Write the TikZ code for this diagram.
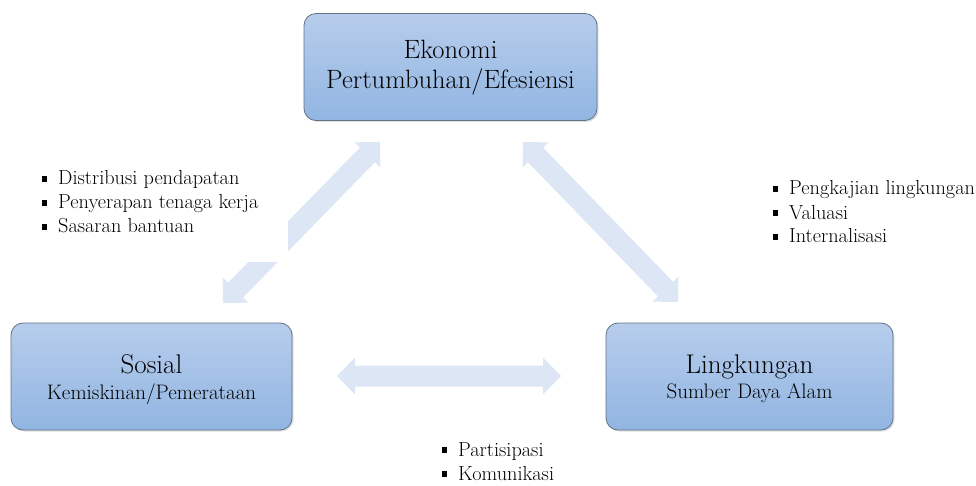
\documentclass[tikz,border=0pt]{standalone}
\usepackage{fontspec}
\setmainfont{Latin Modern Roman}
\usetikzlibrary{calc,shadows}
\definecolor{boxtop}{RGB}{183,205,236}
\definecolor{boxbot}{RGB}{145,181,226}
\definecolor{boxedge}{RGB}{100,114,136}
\definecolor{arrowfill}{RGB}{220,230,244}
\newcommand{\fatarrow}[5]{%
  \fill[arrowfill] (#1)
    -- ($(#1)!#3!(#2)!#4!90:(#2)$)
    -- ($(#1)!#3!(#2)!#5!90:(#2)$)
    -- ($(#2)!#3!(#1)!#5!-90:(#1)$)
    -- ($(#2)!#3!(#1)!#4!-90:(#1)$)
    -- (#2)
    -- ($(#2)!#3!(#1)!#4!90:(#1)$)
    -- ($(#2)!#3!(#1)!#5!90:(#1)$)
    -- ($(#1)!#3!(#2)!#5!-90:(#2)$)
    -- ($(#1)!#3!(#2)!#4!-90:(#2)$)
    -- cycle;}
\begin{document}
\begin{tikzpicture}[x=1pt,y=-1pt,
  domainbox/.style={draw=boxedge, line width=0.8pt, rounded corners=12pt,
    top color=boxtop, bottom color=boxbot, inner sep=0pt,
    minimum height=107pt,
    drop shadow={opacity=0.25, shadow xshift=1.5pt, shadow yshift=-1.5pt}},
  titletext/.style={anchor=base, inner sep=0pt, font=\fontsize{26}{30}\selectfont},
  subtext/.style={anchor=base, inner sep=0pt, font=\fontsize{21}{24}\selectfont},
  itemtext/.style={anchor=base west, inner sep=0pt, font=\fontsize{20.3}{24}\selectfont},
  itembullet/.style={fill=black, inner sep=0pt, minimum size=5.5pt}
]
\useasboundingbox (0,0) rectangle (976,486);

% arrows
\coordinate (aL1) at (223,303);
\coordinate (aL2) at (380,142);
\coordinate (aR1) at (523,142);
\coordinate (aR2) at (678,302);
\coordinate (aB1) at (337,376);
\coordinate (aB2) at (561,376);
\fatarrow{aL1}{aL2}{18pt}{18pt}{10.5pt}
\fatarrow{aR1}{aR2}{18pt}{18pt}{10.5pt}
\fatarrow{aB1}{aB2}{18pt}{18.5pt}{10.5pt}

% white background of the left list (covers part of the left arrow)
\node[fill=white, inner sep=0pt, minimum width=258pt, minimum height=102pt,
  anchor=south east] (lstLbox) at (288,262) {};

% boxes
\node[domainbox, minimum width=293pt] (eko) at (450.5,67) {};
\node[domainbox, minimum width=281pt] (sos) at (151.5,376.5) {};
\node[domainbox, minimum width=287pt] (lin) at (749.5,376.5) {};

\node[titletext, font=\fontsize{26.5}{30}\selectfont] (ekoA) at (450.5,59) {Ekonomi};
\node[titletext, font=\fontsize{26.5}{30}\selectfont] (ekoB) at (450.5,89) {Pertumbuhan/Efesiensi};
\node[titletext, font=\fontsize{27}{30}\selectfont] (sosA) at (151.5,373) {Sosial};
\node[subtext] (sosB) at (151.5,399) {Kemiskinan/Pemerataan};
\node[titletext, font=\fontsize{27}{30}\selectfont] (linA) at (749.5,373) {Lingkungan};
\node[subtext] (linB) at (749.5,398) {Sumber Daya Alam};

% left list
\node[itemtext] (l1) at (58,185) {Distribusi pendapatan};
\node[itemtext] (l2) at (58,209) {Penyerapan tenaga kerja};
\node[itemtext] (l3) at (58,233) {Sasaran bantuan};
\foreach \n in {l1,l2,l3} \node[itembullet] at ($(\n.base west)+(-13.5,-6)$) {};

% right list
\node[itemtext] (r1) at (789,195) {Pengkajian lingkungan};
\node[itemtext] (r2) at (789,219) {Valuasi};
\node[itemtext] (r3) at (789,243) {Internalisasi};
\foreach \n in {r1,r2,r3} \node[itembullet] at ($(\n.base west)+(-13.5,-6)$) {};

% bottom list
\node[itemtext] (b1) at (458,456) {Partisipasi};
\node[itemtext] (b2) at (458,480) {Komunikasi};
\foreach \n in {b1,b2} \node[itembullet] at ($(\n.base west)+(-13.5,-6)$) {};
\end{tikzpicture}
\end{document}
